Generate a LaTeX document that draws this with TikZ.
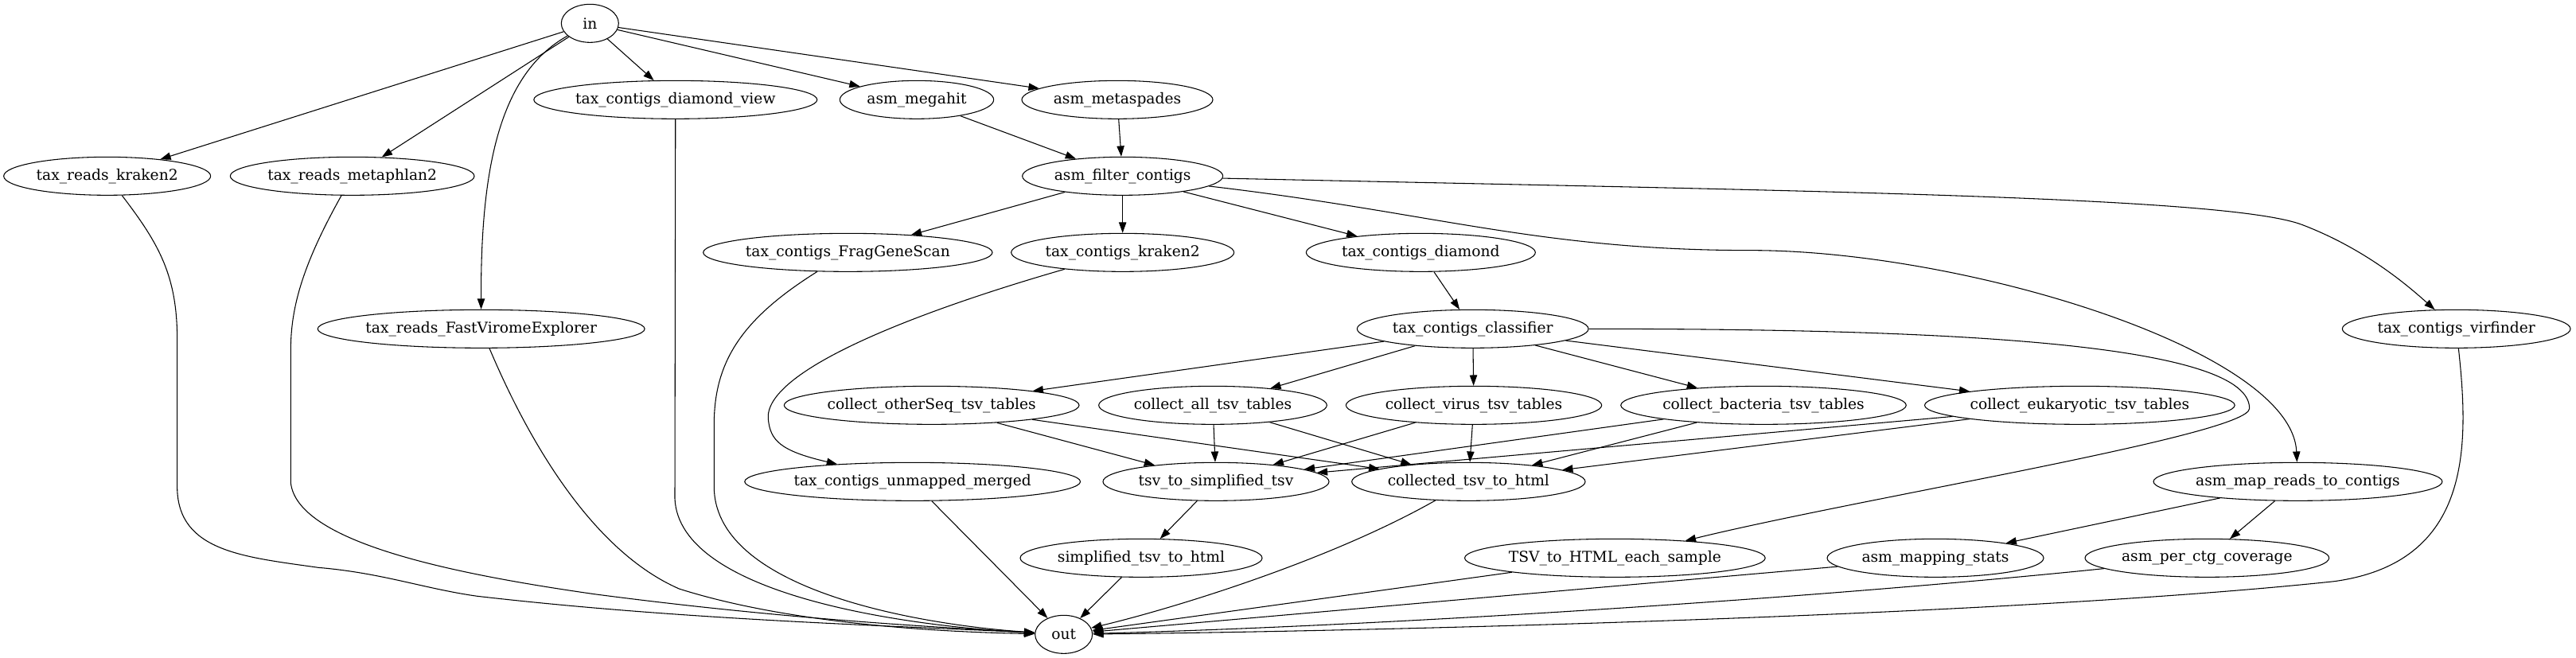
\documentclass[tikz,border=0pt]{standalone}
\usepackage{fontspec}
\usepackage{tikz}
\usetikzlibrary{arrows.meta, shapes.geometric}
\newfontfamily\jobfont{DejaVu Serif}
\tikzset{
  job/.style={
    ellipse,
    draw,
    line width=0.8pt,
    minimum height=36pt,
    inner sep=0pt,
    font=\jobfont\fontsize{14}{16}\selectfont
  },
  flow/.style={
    -{Triangle[length=10pt,width=7pt]},
    line width=0.8pt
  }
}
\begin{document}
\begin{tikzpicture}[x=1pt, y=1pt]
  \useasboundingbox (0,0) rectangle (2427.75,-620.25);

  %% ---- rank 0 ----
  \node[job, minimum width=54pt]  (in)             at (556,-22)     {in};
  %% ---- rank 1 ----
  \node[job, minimum width=267pt] (diamondview)    at (636.6,-94)   {tax\_contigs\_diamond\_view};
  \node[job, minimum width=145pt] (megahit)        at (864,-94)     {asm\_megahit};
  \node[job, minimum width=180pt] (metaspades)     at (1053,-94)    {asm\_metaspades};
  %% ---- rank 2 ----
  \node[job, minimum width=195pt] (readskraken)    at (101,-166)    {tax\_reads\_kraken2};
  \node[job, minimum width=230pt] (metaphlan)      at (332,-166)    {tax\_reads\_metaphlan2};
  \node[job, minimum width=189pt] (filter)         at (1058,-166)   {asm\_filter\_contigs};
  %% ---- rank 3 ----
  \node[job, minimum width=270pt] (fraggenescan)   at (799,-238)    {tax\_contigs\_FragGeneScan};
  \node[job, minimum width=210pt] (contigskraken)  at (1058,-238)   {tax\_contigs\_kraken2};
  \node[job, minimum width=216pt] (contigsdiamond) at (1339,-238)   {tax\_contigs\_diamond};
  %% ---- rank 4 ----
  \node[job, minimum width=307pt] (fastvirome)     at (453.5,-310)  {tax\_reads\_FastViromeExplorer};
  \node[job, minimum width=218pt] (classifier)     at (1388,-310)   {tax\_contigs\_classifier};
  \node[job, minimum width=215pt] (virfinder)      at (2315,-310)   {tax\_contigs\_virfinder};
  %% ---- rank 5 ----
  \node[job, minimum width=278pt] (otherseq)       at (878,-382)    {collect\_otherSeq\_tsv\_tables};
  \node[job, minimum width=215pt] (alltsv)         at (1143,-382)   {collect\_all\_tsv\_tables};
  \node[job, minimum width=241pt] (virustsv)       at (1389,-382)   {collect\_virus\_tsv\_tables};
  \node[job, minimum width=268pt] (bacteriatsv)    at (1662,-382)   {collect\_bacteria\_tsv\_tables};
  \node[job, minimum width=292pt] (eukaryotictsv)  at (1960,-382)   {collect\_eukaryotic\_tsv\_tables};
  %% ---- rank 6 ----
  \node[job, minimum width=313pt] (unmapped)       at (860,-454)    {tax\_contigs\_unmapped\_merged};
  \node[job, minimum width=213pt] (tosimplified)   at (1146,-454)   {tsv\_to\_simplified\_tsv};
  \node[job, minimum width=220pt] (collectedhtml)  at (1384,-454)   {collected\_tsv\_to\_html};
  \node[job, minimum width=271pt] (mapreads)       at (2165.6,-454) {asm\_map\_reads\_to\_contigs};
  %% ---- rank 7 ----
  \node[job, minimum width=228pt] (simplifiedhtml) at (1075.5,-526) {simplified\_tsv\_to\_html};
  \node[job, minimum width=280pt] (eachsample)     at (1522,-526)   {TSV\_to\_HTML\_each\_sample};
  \node[job, minimum width=204pt] (mappingstats)   at (1824,-526)   {asm\_mapping\_stats};
  \node[job, minimum width=230pt] (perctg)         at (2080,-526)   {asm\_per\_ctg\_coverage};
  %% ---- rank 8 ----
  \node[job, minimum width=54pt]  (out)            at (1002.5,-598) {out};

  %% ---- straight edges ----
  \foreach \t in {readskraken,metaphlan,diamondview,megahit,metaspades}
    \draw[flow] (in) -- (\t);
  \foreach \s in {megahit,metaspades}
    \draw[flow] (\s) -- (filter);
  \foreach \t in {fraggenescan,contigskraken,contigsdiamond}
    \draw[flow] (filter) -- (\t);
  \draw[flow] (contigsdiamond) -- (classifier);
  \foreach \t in {otherseq,alltsv,virustsv,bacteriatsv,eukaryotictsv}
    \draw[flow] (classifier) -- (\t);
  \foreach \s in {otherseq,alltsv,virustsv,bacteriatsv,eukaryotictsv} {
    \draw[flow] (\s) -- (tosimplified);
    \draw[flow] (\s) -- (collectedhtml);
  }
  \draw[flow] (tosimplified) -- (simplifiedhtml);
  \foreach \t in {mappingstats,perctg}
    \draw[flow] (mapreads) -- (\t);
  \foreach \s in {unmapped,simplifiedhtml,eachsample,mappingstats}
    \draw[flow] (\s) -- (out);

  %% ---- curved edges ----
  \draw[flow] (in) .. controls (470,-70) and (453,-160) .. (fastvirome);
  \draw[flow] (contigskraken) .. controls (860,-295) and (720,-350) .. (724,-395)
              .. controls (726,-415) and (735,-425) .. (unmapped);
  \draw[flow] (filter) .. controls (1700,-180) and (2100,-185) .. (2170,-212)
              .. controls (2230,-235) and (2270,-270) .. (virfinder);
  \draw[flow] (filter) .. controls (1350,-200) and (1450,-236) .. (1650,-236)
              .. controls (1850,-236) and (2160,-330) .. (mapreads);
  \draw[flow] (classifier) .. controls (1800,-310) and (2120,-320) .. (2120,-385)
              .. controls (2120,-410) and (1750,-470) .. (eachsample);

  %% ---- edges into out ----
  \draw[flow] (readskraken) .. controls (150,-230) and (167,-260) .. (167,-320)
              -- (167,-460) .. controls (168,-520) and (230,-525) .. (300,-535)
              .. controls (360,-540) and (400,-555) .. (450,-562)
              .. controls (650,-585) and (850,-590) .. (out);
  \draw[flow] (metaphlan) .. controls (285,-250) and (274,-290) .. (274,-330)
              -- (274,-455) .. controls (280,-510) and (420,-540) .. (560,-560)
              .. controls (750,-585) and (900,-592) .. (out);
  \draw[flow] (fastvirome) .. controls (500,-420) and (560,-520) .. (640,-555)
              .. controls (750,-590) and (900,-596) .. (out);
  \draw[flow] (diamondview) -- (636,-470) .. controls (640,-560) and (850,-590) .. (out);
  \draw[flow] (fraggenescan) .. controls (700,-300) and (673,-340) .. (673,-400)
              -- (673,-460) .. controls (675,-560) and (880,-590) .. (out);
  \draw[flow] (collectedhtml) .. controls (1250,-530) and (1100,-575) .. (out);
  \draw[flow] (perctg) .. controls (1700,-565) and (1300,-590) .. (out);
  \draw[flow] (virfinder) .. controls (2327,-420) and (2330,-530) .. (2200,-548)
              .. controls (1900,-580) and (1300,-595) .. (out);

\end{tikzpicture}
\end{document}
